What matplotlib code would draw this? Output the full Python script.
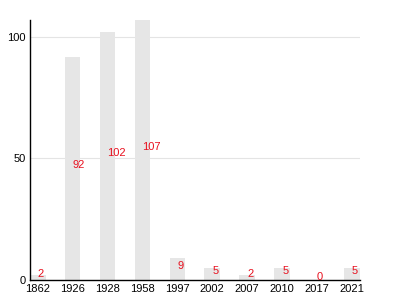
import matplotlib
matplotlib.use("Agg")
import matplotlib.pyplot as plt
import numpy as np

years = ["1862", "1926", "1928", "1958", "1997", "2002", "2007", "2010", "2017", "2021"]
counts = [2, 92, 102, 107, 9, 5, 2, 5, 0, 5]
y_ticks = [0, 50, 100]

BAR_COL = "#e6e6e6"
LABEL_COL = "#e8101e"

plt.rcParams["font.family"] = ["Liberation Sans", "DejaVu Sans"]

fig = plt.figure(figsize=(4, 3), dpi=100)
ax = fig.add_axes([0.075, 0.067, 0.825, 0.866])

x = np.arange(len(years))
ax.bar(x, counts, width=0.45, color=BAR_COL, zorder=2)

# value labels start at the bar centre, baseline at half height
for xi, v in zip(x, counts):
    ax.text(xi, v / 2, str(v), color=LABEL_COL, fontsize=8,
            ha="left", va="baseline", zorder=3)

ax.set_xlim(-0.22, len(years) - 0.77)
ax.set_ylim(0, max(counts))
ax.set_xticks(x)
ax.set_xticklabels(years)
ax.set_yticks(y_ticks)
ax.tick_params(axis="both", length=0, labelsize=8, pad=3)
ax.grid(axis="y", color="#e4e4e4", linewidth=0.8, zorder=0)
ax.set_axisbelow(True)

for s in ["top", "right"]:
    ax.spines[s].set_visible(False)
for s in ["left", "bottom"]:
    ax.spines[s].set_color("black")
    ax.spines[s].set_linewidth(1.0)

fig.savefig("out.png", dpi=100)
